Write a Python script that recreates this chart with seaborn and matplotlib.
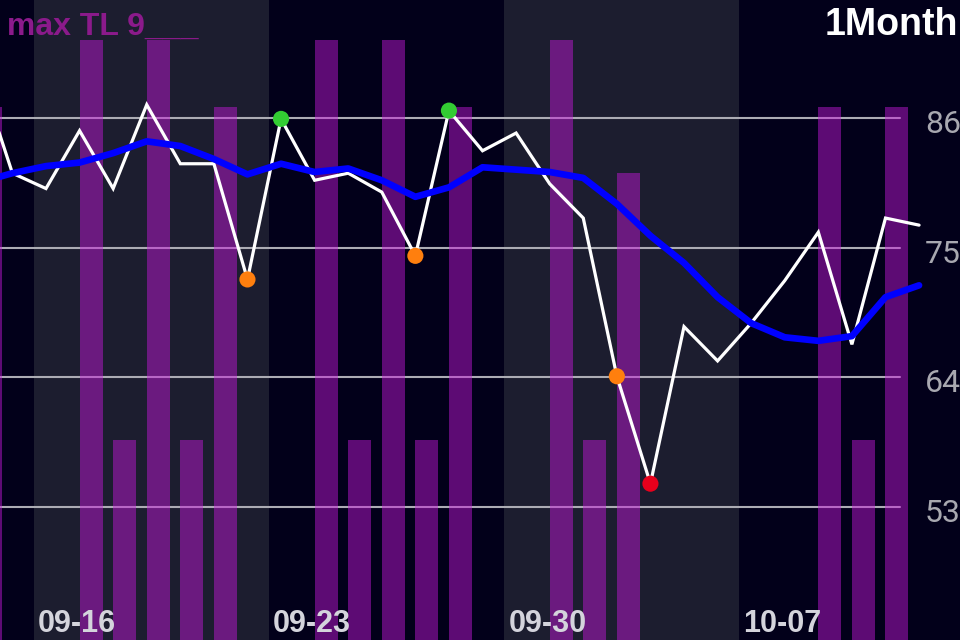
import pandas as pd
import seaborn as sns
import matplotlib.pyplot as plt

# daily values, 09-14 .. 10-12 (first day sits just off the left edge)
days = list(range(-2, 27))  # days relative to 09-16
close = [90.0, 81.3, 80.0, 84.9, 80.0, 87.1, 82.1, 82.1, 72.3, 85.9,
         80.7, 81.3, 79.7, 74.3, 86.6, 83.2, 84.7, 80.4, 77.5, 64.1,
         55.0, 68.3, 65.4, 68.6, 72.2, 76.3, 66.8, 77.5, 76.9]
avg = [80.5, 81.3, 81.9, 82.2, 83.0, 84.0, 83.6, 82.5, 81.2, 82.1,
       81.4, 81.7, 80.7, 79.3, 80.1, 81.8, 81.6, 81.4, 80.9, 78.7,
       76.0, 73.7, 70.8, 68.6, 67.4, 67.1, 67.5, 70.8, 71.8]
tl = [8, 0, 0, 9, 3, 9, 3, 8, 0, 0,
      9, 3, 9, 3, 8, 0, 0, 9, 3, 7,
      0, 0, 0, 0, 0, 8, 3, 8, 0]

# signal dots: index into the lists above
sig_idx = [8, 9, 13, 14, 19, 20]
sig_kind = ['low', 'high', 'low', 'high', 'low', 'bottom']

week_starts = [0, 7, 14, 21]
week_labels = ['09-16', '09-23', '09-30', '10-07']
price_ticks = [86, 75, 64, 53]

TIME_OFFSET = 0.357   # sample time within the day
BAR_W = 0.685

df = pd.DataFrame({'x': [d + TIME_OFFSET for d in days], 'close': close, 'avg': avg, 'tl': tl})
sig = df.iloc[sig_idx].copy()
sig['kind'] = sig_kind

sns.set_theme(style='dark')
plt.rcParams['font.family'] = ['Liberation Sans', 'DejaVu Sans']

BG = '#02001a'
BAND = '#1c1d2f'

fig = plt.figure(figsize=(9.6, 6.4), dpi=100, facecolor=BG)
ax = fig.add_axes([0, 0, 1, 1])
ax.set_facecolor(BG)
ax.set_xlim(-1.0125, 27.576)
ax.set_ylim(41.76, 95.97)

for ws in week_starts:
    if ws % 14 == 0:
        ax.axvspan(ws, ws + 7, color=BAND, lw=0, zorder=0)
for t in price_ticks:
    ax.axhline(t, xmin=0, xmax=900 / 960, color='#acacb4', lw=1.5, zorder=1)

# TL bars on their own scale
axb = ax.twinx()
axb.set_ylim(0, 9.6)
bars = df[df['tl'] > 0]
axb.bar(bars['x'], bars['tl'], width=BAR_W, align='edge', color='#c618dc', alpha=0.465, lw=0)

# price lines
axl = ax.twinx()
axl.set_ylim(41.76, 95.97)
sns.lineplot(x='x', y='close', data=df, ax=axl, sort=False, color='white', lw=2.3, solid_joinstyle='miter')
sns.lineplot(x='x', y='avg', data=df, ax=axl, sort=False, color='#0000ff', lw=4.8, solid_joinstyle='round')
sns.scatterplot(x='x', y='close', data=sig, ax=axl, hue='kind',
                palette={'low': '#ff7f0e', 'high': '#33cc33', 'bottom': '#e8001c'},
                s=135, linewidth=0, legend=False, zorder=5)

for a in (ax, axb, axl):
    a.set_xlim(-1.0125, 27.576)
    a.set_xticks([])
    a.set_yticks([])
    a.set_xlabel('')
    a.set_ylabel('')
    for s in a.spines.values():
        s.set_visible(False)

for t in price_ticks:
    axl.annotate(str(t), xy=(925 / 960, t), xycoords=('axes fraction', 'data'),
                 xytext=(0, -10.8), textcoords='offset points', va='baseline', ha='left',
                 fontsize=23, color='#a8a8b0', family=['Roboto', 'DejaVu Sans'], fontweight='normal')

for ws, lbl in zip(week_starts, week_labels):
    axl.annotate(lbl, xy=(ws, 0), xycoords=('data', 'axes fraction'),
                 xytext=(3, 5.8), textcoords='offset points', va='baseline', ha='left',
                 fontsize=22, fontweight='bold', color='#d4d4dc')

fig.text(7 / 960, 1 - 35 / 640, 'max TL 9___', color='#8b1a8b', fontsize=23,
         fontweight='bold', va='baseline', ha='left')
fig.text(958 / 960, 1 - 35 / 640, '1Month', color='white', fontsize=27,
         fontweight='bold', va='baseline', ha='right')

plt.savefig('out.png', dpi=100, facecolor=BG)
